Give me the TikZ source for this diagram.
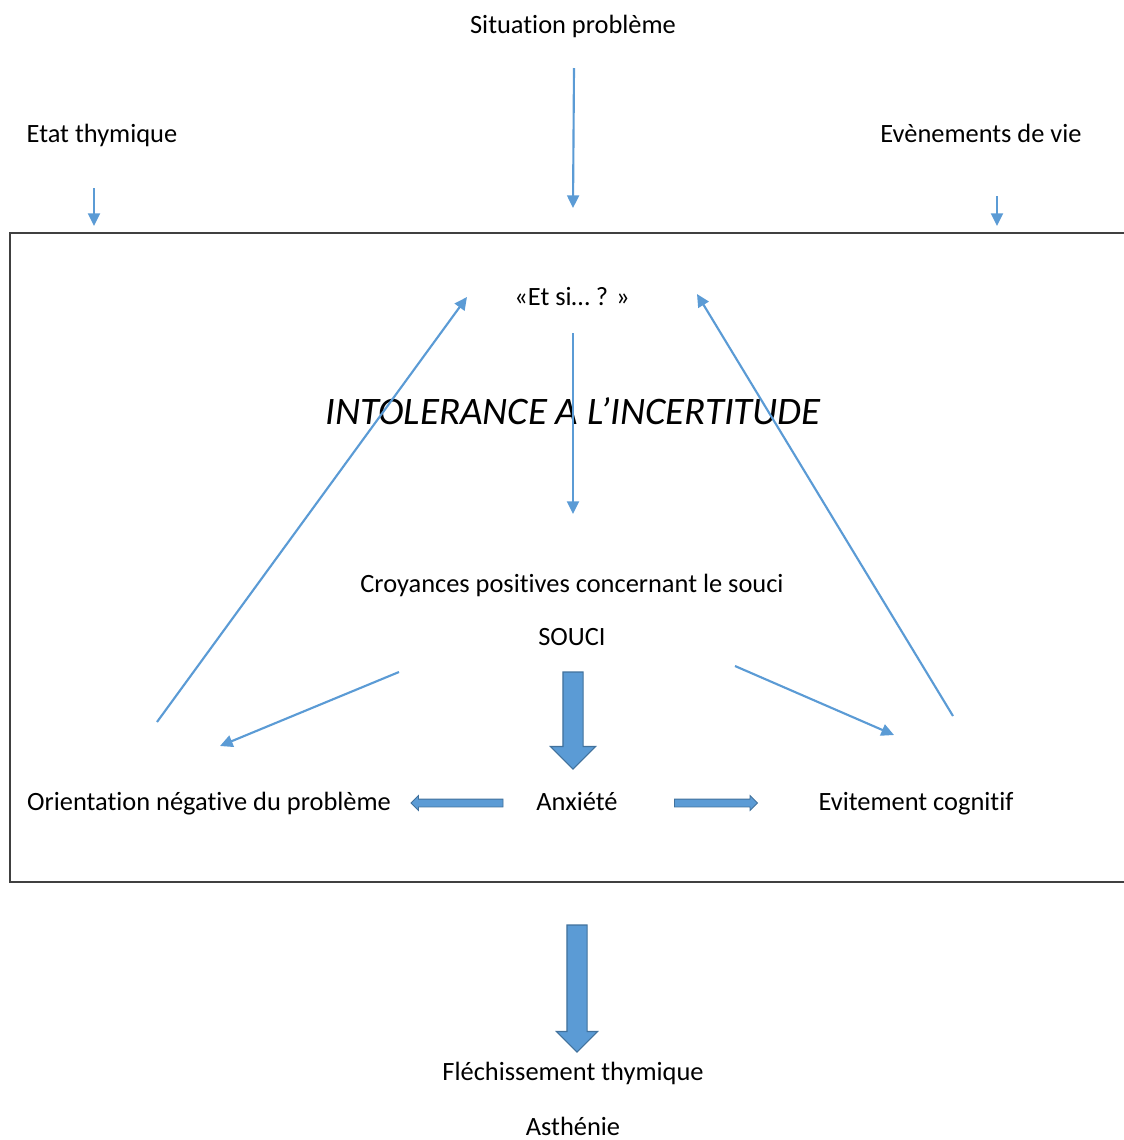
\documentclass[tikz,border=0pt]{standalone}
\usepackage{fontspec}
\setmainfont{Carlito}[Ligatures=NoCommon]
\usetikzlibrary{arrows.meta,shapes.arrows}

\definecolor{arrowblue}{HTML}{5B9BD5}
\definecolor{arrowedge}{HTML}{41719C}
\definecolor{boxgray}{HTML}{404040}

\begin{document}
\begin{tikzpicture}[x=0.75pt,y=-0.75pt,
  lbl/.style={anchor=base,inner sep=0pt,font=\fontsize{19.8}{22}\selectfont},
  headline/.style={anchor=base,inner sep=0pt,font=\fontsize{29.2}{32}\selectfont\itshape},
  thin/.style={draw=arrowblue,line width=1.6pt,-{Triangle[length=9.5pt,width=9pt]}},
  fat/.style={single arrow,draw=arrowedge,fill=arrowblue,line width=0.8pt,
    inner sep=0pt,single arrow tip angle=90,single arrow head indent=0pt}]
\def\px{0.75pt}
\useasboundingbox (0,0) rectangle (1124,1140);

% outer frame (right edge runs off the page)
\draw[boxgray,line width=1.1pt] (1124,233) -| (10,882) -- (1124,882);

\node[lbl] (sit) at (573,33) {Situation problème};
\node[lbl] (etat) at (102,142) {Etat thymique};
\node[lbl] (evt) at (981,142) {Evènements de vie};
\node[lbl] (etsi) at (572,305) {«Et si… ? »};
\node[headline] (intol) at (573,424) {INTOLERANCE A L’INCERTITUDE};
\node[lbl] (croy) at (572,592) {Croyances positives concernant le souci};
\node[lbl] (souci) at (572,645) {SOUCI};
\node[lbl] (orient) at (209,810) {Orientation négative du problème};
\node[lbl] (anx) at (577,810) {Anxiété};
\node[lbl] (evit) at (916,810) {Evitement cognitif};
\node[lbl] (flech) at (573,1080) {Fléchissement thymique};
\node[lbl] (asth) at (573,1135) {Asthénie};

\coordinate (sitout) at (574,68);   \coordinate (sitin) at (573,208);
\coordinate (etatout) at (94,188);  \coordinate (etatin) at (94,226);
\coordinate (evtout) at (997,196);  \coordinate (evtin) at (997,226);
\coordinate (etsiout) at (573,333); \coordinate (croyin) at (573,514);
\coordinate (orientout) at (157,722); \coordinate (etsiL) at (467,297);
\coordinate (evitout) at (953,716); \coordinate (etsiR) at (697,294);
\coordinate (souciL) at (399,672);  \coordinate (orientin) at (220,746);
\coordinate (souciR) at (735,666);  \coordinate (evitin) at (894,735);

\draw[thin] (sitout) -- (sitin);
\draw[thin] (etatout) -- (etatin);
\draw[thin] (evtout) -- (evtin);
\draw[thin] (etsiout) -- (croyin);
\draw[thin] (orientout) -- (etsiL);
\draw[thin] (evitout) -- (etsiR);
\draw[thin] (souciL) -- (orientin);
\draw[thin] (souciR) -- (evitin);

% block arrows
\node[fat,rotate=-90,minimum height=97*\px,minimum width=44*\px,
  inner ysep=9.5*\px,single arrow head extend=12.5*\px] (soucianx) at (573,715.5) {};
\node[fat,rotate=-90,minimum height=127*\px,minimum width=40*\px,
  inner ysep=9.5*\px,single arrow head extend=10.5*\px] (anxflech) at (577,983.5) {};
\node[fat,rotate=180,minimum height=92*\px,minimum width=14*\px,
  inner ysep=3.5*\px,single arrow head extend=3.5*\px,line width=0.6pt] (anxorient) at (459,803) {};
\node[fat,minimum height=83*\px,minimum width=14*\px,
  inner ysep=3.5*\px,single arrow head extend=3.5*\px,line width=0.6pt] (anxevit) at (714,803) {};
\end{tikzpicture}
\end{document}
